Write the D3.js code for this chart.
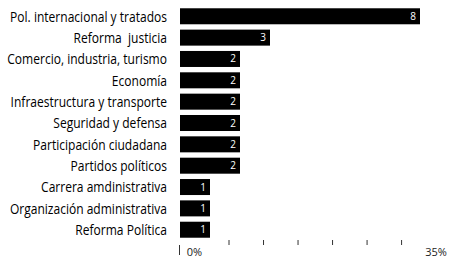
<!DOCTYPE html>
<html>
  <head>
    <script src="https://cdnjs.cloudflare.com/ajax/libs/d3/7.8.5/d3.min.js"></script>
    <style>
      body { margin: 0; background: #fff; }
      text { font-family: "Open Sans", sans-serif; white-space: pre; }
    </style>
  </head>
  <body>
    <svg width="453" height="259"></svg>
    <script>
      const categories = [
        "Pol. internacional y tratados",
        "Reforma  justicia",
        "Comercio, industria, turismo",
        "Economía",
        "Infraestructura y transporte",
        "Seguridad y defensa",
        "Participación ciudadana",
        "Partidos políticos",
        "Carrera amdinistrativa",
        "Organización administrativa",
        "Reforma Política"
      ];
      const counts = [8, 3, 2, 2, 2, 2, 2, 2, 1, 1, 1];
      const pctTicks = [0, 5, 10, 15, 20, 25, 30, 35];

      function main(){
        const svg = d3.select("svg");

        const x = d3.scaleLinear().domain([0, 8]).range([180, 420]);
        const y = d3.scaleBand().domain(categories).range([5.5, 240.5]).paddingInner(0.25).paddingOuter(0.13);
        const pct = d3.scaleLinear().domain([0, 35]).range([194, 435.6]);

        const rows = svg.selectAll("g.row").data(categories).enter().append("g").attr("class", "row");

        rows.append("rect")
          .attr("x", x(0))
          .attr("y", d => y(d))
          .attr("width", (d, i) => x(counts[i]) - x(0))
          .attr("height", y.bandwidth())
          .attr("fill", "#000");

        // category labels, squeezed to look like a condensed face
        const labels = rows.append("text")
          .attr("text-anchor", "end")
          .attr("dy", "0.35em")
          .attr("font-size", 15)
          .attr("fill", "#000")
          .text(d => d);
        const widest = labels.nodes()[0].getComputedTextLength();
        const sx = 157 / widest;
        labels.attr("transform", d => `translate(167,${y(d) + y.bandwidth() / 2}) scale(${sx},1)`);

        rows.append("text")
          .attr("x", (d, i) => x(counts[i]) - 4)
          .attr("y", d => y(d) + y.bandwidth() / 2)
          .attr("dy", "0.35em")
          .attr("text-anchor", "end")
          .attr("font-size", 10)
          .attr("fill", "#fff")
          .text((d, i) => counts[i]);

        // percent axis
        const axis = svg.append("g").attr("transform", "translate(0,240)")
          .call(d3.axisBottom(pct).tickValues(pctTicks).tickSize(5).tickPadding(3)
            .tickFormat(d => (d === 0 || d === 35) ? d + "%" : ""));
        axis.select(".domain").remove();
        axis.selectAll(".tick line").attr("stroke", "#333")
          .attr("opacity", d => (d === 0 || d === 35) ? 0 : 1);
        axis.selectAll(".tick text").attr("font-size", 11).attr("fill", "#222")
          .attr("font-family", "'Open Sans', sans-serif");

        svg.append("line")
          .attr("x1", x(0) - 0.5).attr("x2", x(0) - 0.5)
          .attr("y1", 245).attr("y2", 255)
          .attr("stroke", "#333");
      }
      main();
    </script>
  </body>
</html>
